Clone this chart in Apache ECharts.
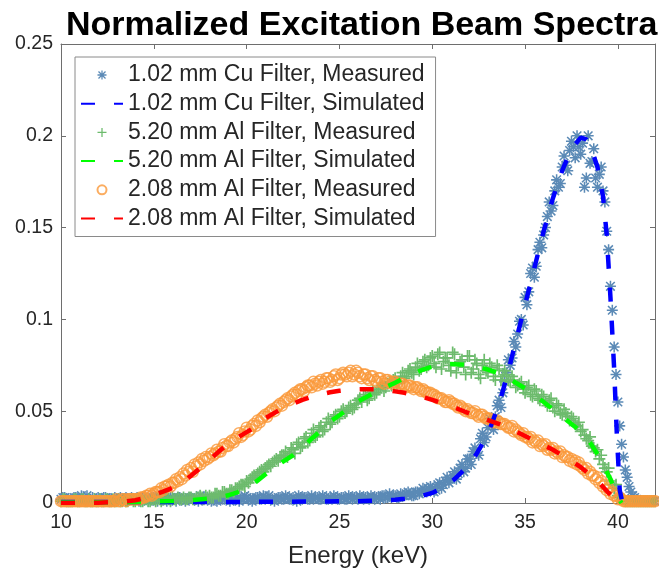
<!DOCTYPE html>
<html>
<head>
<meta charset="utf-8">
<script src="https://cdn.jsdelivr.net/npm/echarts@6/dist/echarts.min.js"></script>
<style>
html,body{margin:0;padding:0;background:#fff;}
#chart{width:659px;height:573px;}
</style>
</head>
<body>
<div id="chart"></div>
<script>
// ---------- data ----------
const seriesNames = [
  '1.02 mm Cu Filter, Measured',
  '1.02 mm Cu Filter, Simulated',
  '5.20 mm Al Filter, Measured',
  '5.20 mm Al Filter, Simulated',
  '2.08 mm Al Filter, Measured',
  '2.08 mm Al Filter, Simulated'
];

// energies of measured points (keV), set A
const energyMeasA = [
  10.0,10.2,10.4,10.6,10.8, 11.0,11.2,11.4,11.6,11.8, 12.0,12.2,12.4,12.6,12.8, 13.0,13.2,13.4,13.6,13.8,
  14.0,14.2,14.4,14.6,14.8, 15.0,15.2,15.4,15.6,15.8, 16.0,16.2,16.4,16.6,16.8, 17.0,17.2,17.4,17.6,17.8,
  18.0,18.2,18.4,18.6,18.8, 19.0,19.2,19.4,19.6,19.8, 20.0,20.2,20.4,20.6,20.8, 21.0,21.2,21.4,21.6,21.8,
  22.0,22.2,22.4,22.6,22.8, 23.0,23.2,23.4,23.6,23.8, 24.0,24.2,24.4,24.6,24.8, 25.0,25.2,25.4,25.6,25.8,
  26.0,26.2,26.4,26.6,26.8, 27.0,27.2,27.4,27.6,27.8, 28.0,28.2,28.4,28.6,28.8, 29.0,29.2,29.4,29.6,29.8,
  30.0,30.2,30.4,30.6,30.8, 31.0,31.2,31.4,31.6,31.8, 32.0,32.2,32.4,32.6,32.8, 33.0,33.2,33.4,33.6,33.8,
  34.0,34.2,34.4,34.6,34.8, 35.0,35.2,35.4,35.6,35.8, 36.0,36.2,36.4,36.6,36.8, 37.0,37.2,37.4,37.6,37.8,
  38.0,38.2,38.4,38.6,38.8, 39.0,39.2,39.4,39.6,39.8, 40.0,40.2,40.4,40.6,40.8, 41.0,41.2,41.4,41.6,41.8,
  42.0
];
// energies of measured points (keV), set B
const energyMeasB = [
  10.1,10.3,10.5,10.7,10.9, 11.1,11.3,11.5,11.7,11.9, 12.1,12.3,12.5,12.7,12.9, 13.1,13.3,13.5,13.7,13.9,
  14.1,14.3,14.5,14.7,14.9, 15.1,15.3,15.5,15.7,15.9, 16.1,16.3,16.5,16.7,16.9, 17.1,17.3,17.5,17.7,17.9,
  18.1,18.3,18.5,18.7,18.9, 19.1,19.3,19.5,19.7,19.9, 20.1,20.3,20.5,20.7,20.9, 21.1,21.3,21.5,21.7,21.9,
  22.1,22.3,22.5,22.7,22.9, 23.1,23.3,23.5,23.7,23.9, 24.1,24.3,24.5,24.7,24.9, 25.1,25.3,25.5,25.7,25.9,
  26.1,26.3,26.5,26.7,26.9, 27.1,27.3,27.5,27.7,27.9, 28.1,28.3,28.5,28.7,28.9, 29.1,29.3,29.5,29.7,29.9,
  30.1,30.3,30.5,30.7,30.9, 31.1,31.3,31.5,31.7,31.9, 32.1,32.3,32.5,32.7,32.9, 33.1,33.3,33.5,33.7,33.9,
  34.1,34.3,34.5,34.7,34.9, 35.1,35.3,35.5,35.7,35.9, 36.1,36.3,36.5,36.7,36.9, 37.1,37.3,37.5,37.7,37.9,
  38.1,38.3,38.5,38.7,38.9, 39.1,39.3,39.5,39.7,39.9, 40.1,40.3,40.5,40.7,40.9, 41.1,41.3,41.5,41.7,41.9
];

const cuMeasuredA = [
  0.002,0.003,0.002,0.001,0.003,0.002,0.002,0.004,0.002,0.001,0.003,0.002,0.003,0.002,0.001,0.002,0.003,0.002,0.002,0.003,
  0.002,0.001,0.003,0.002,0.002,0.003,0.001,0.002,0.003,0.002,0.002,0.001,0.003,0.002,0.002,0.003,0.002,0.001,0.002,0.003,
  0.002,0.002,0.001,0.003,0.002,0.002,0.003,0.002,0.001,0.002,0.003,0.002,0.002,0.003,0.002,0.002,0.004,0.002,0.002,0.003,
  0.002,0.003,0.002,0.002,0.004,0.002,0.003,0.002,0.002,0.003,0.002,0.003,0.002,0.002,0.003,0.002,0.003,0.002,0.003,0.003,
  0.002,0.003,0.003,0.002,0.003,0.003,0.002,0.004,0.003,0.003,0.004,0.003,0.004,0.005,0.005,0.004,0.006,0.006,0.007,0.008,
  0.008,0.007,0.011,0.010,0.014,0.013,0.017,0.016,0.021,0.019,0.024,0.028,0.027,0.035,0.033,0.041,0.045,0.047,0.056,0.060,
  0.071,0.075,0.088,0.092,0.100,0.112,0.115,0.128,0.129,0.142,0.146,0.156,0.159,0.170,0.172,0.183,0.184,0.192,0.194,0.200,
  0.190,0.172,0.200,0.186,0.177,0.179,0.170,0.148,0.118,0.085,0.055,0.032,0.018,0.009,0.004,0.002,0.001,0.001,0.001,0.001,
  0.001
];
const cuMeasuredB = [
  0.003,0.002,0.001,0.003,0.002,0.004,0.002,0.001,0.003,0.002,0.002,0.003,0.001,0.002,0.003,0.002,0.001,0.003,0.002,0.002,
  0.003,0.002,0.002,0.001,0.003,0.002,0.004,0.002,0.001,0.003,0.002,0.003,0.002,0.001,0.003,0.002,0.002,0.004,0.003,0.002,
  0.001,0.003,0.002,0.002,0.004,0.001,0.002,0.003,0.002,0.004,0.002,0.001,0.003,0.002,0.004,0.003,0.002,0.001,0.003,0.002,
  0.004,0.002,0.003,0.001,0.003,0.003,0.002,0.004,0.003,0.002,0.004,0.002,0.003,0.004,0.002,0.003,0.002,0.004,0.002,0.003,
  0.004,0.002,0.003,0.004,0.002,0.003,0.004,0.003,0.005,0.004,0.003,0.005,0.004,0.006,0.004,0.006,0.005,0.008,0.006,0.009,
  0.006,0.010,0.008,0.012,0.011,0.015,0.013,0.019,0.017,0.024,0.021,0.030,0.026,0.038,0.036,0.046,0.040,0.053,0.052,0.066,
  0.078,0.079,0.085,0.099,0.097,0.108,0.125,0.123,0.138,0.139,0.150,0.164,0.162,0.176,0.174,0.189,0.181,0.197,0.188,0.194,
  0.196,0.177,0.185,0.193,0.172,0.183,0.164,0.138,0.105,0.070,0.042,0.025,0.014,0.006,0.003,0.001,0.001,0.001,0.001,0.001
];

const al520MeasuredA = [
  0.001,0.002,0.001,0.001,0.002,0.001,0.002,0.001,0.001,0.002,0.001,0.001,0.002,0.001,0.002,0.001,0.001,0.002,0.001,0.002,
  0.001,0.002,0.001,0.002,0.001,0.002,0.002,0.001,0.002,0.002,0.003,0.002,0.002,0.003,0.002,0.003,0.002,0.003,0.003,0.004,
  0.004,0.003,0.005,0.004,0.006,0.005,0.007,0.008,0.009,0.010,0.012,0.013,0.015,0.016,0.018,0.019,0.021,0.022,0.024,0.025,
  0.026,0.025,0.030,0.027,0.033,0.031,0.036,0.034,0.040,0.037,0.042,0.040,0.046,0.044,0.048,0.047,0.051,0.050,0.053,0.052,
  0.056,0.055,0.059,0.057,0.061,0.060,0.063,0.061,0.065,0.064,0.068,0.066,0.071,0.069,0.073,0.070,0.076,0.073,0.078,0.075,
  0.080,0.074,0.082,0.077,0.079,0.072,0.081,0.075,0.078,0.070,0.080,0.073,0.076,0.068,0.078,0.071,0.074,0.067,0.073,0.069,
  0.070,0.066,0.067,0.064,0.066,0.060,0.064,0.058,0.061,0.056,0.058,0.053,0.057,0.050,0.053,0.048,0.049,0.045,0.046,0.042,
  0.039,0.037,0.034,0.031,0.028,0.024,0.021,0.017,0.012,0.008,0.004,0.002,0.001,0.001,0.001,0.001,0.001,0.001,0.001,0.001,
  0.001
];
const al520MeasuredB = [
  0.002,0.001,0.001,0.002,0.001,0.002,0.001,0.002,0.001,0.001,0.002,0.001,0.002,0.001,0.001,0.002,0.001,0.001,0.002,0.001,
  0.002,0.001,0.002,0.001,0.002,0.001,0.002,0.002,0.003,0.001,0.002,0.003,0.002,0.002,0.003,0.002,0.003,0.004,0.002,0.003,
  0.003,0.005,0.004,0.006,0.005,0.007,0.006,0.008,0.010,0.009,0.011,0.014,0.014,0.017,0.017,0.020,0.020,0.023,0.023,0.026,
  0.028,0.027,0.029,0.032,0.030,0.035,0.033,0.038,0.036,0.041,0.039,0.044,0.043,0.047,0.046,0.050,0.049,0.052,0.051,0.054,
  0.057,0.058,0.056,0.060,0.059,0.062,0.064,0.063,0.066,0.067,0.065,0.069,0.068,0.072,0.071,0.074,0.072,0.077,0.074,0.079,
  0.076,0.081,0.073,0.079,0.075,0.082,0.071,0.077,0.074,0.080,0.071,0.078,0.070,0.075,0.072,0.076,0.069,0.075,0.067,0.072,
  0.067,0.069,0.063,0.065,0.062,0.063,0.059,0.062,0.057,0.059,0.055,0.056,0.052,0.054,0.049,0.051,0.047,0.047,0.043,0.044,
  0.040,0.035,0.036,0.030,0.029,0.026,0.019,0.019,0.010,0.010,0.003,0.002,0.001,0.001,0.001,0.001,0.001,0.001,0.001,0.001
];

const al208MeasuredA = [
  0.001,0.001,0.001,0.001,0.001,0.001,0.001,0.001,0.001,0.001,0.001,0.001,0.001,0.001,0.001,0.002,0.001,0.002,0.002,0.002,
  0.002,0.002,0.003,0.004,0.005,0.005,0.006,0.008,0.009,0.010,0.011,0.013,0.014,0.016,0.018,0.019,0.021,0.022,0.024,0.025,
  0.025,0.026,0.029,0.028,0.032,0.031,0.034,0.035,0.038,0.037,0.041,0.040,0.043,0.045,0.046,0.048,0.049,0.051,0.052,0.054,
  0.055,0.057,0.058,0.060,0.061,0.062,0.063,0.064,0.066,0.064,0.067,0.066,0.068,0.067,0.070,0.068,0.071,0.069,0.072,0.070,
  0.071,0.068,0.070,0.067,0.069,0.066,0.068,0.065,0.067,0.065,0.066,0.064,0.065,0.063,0.064,0.062,0.063,0.061,0.061,0.060,
  0.059,0.058,0.057,0.056,0.055,0.055,0.054,0.052,0.052,0.050,0.050,0.049,0.048,0.048,0.047,0.046,0.045,0.044,0.044,0.043,
  0.042,0.041,0.039,0.039,0.037,0.036,0.035,0.033,0.033,0.031,0.031,0.029,0.029,0.027,0.027,0.025,0.025,0.023,0.022,0.021,
  0.020,0.018,0.016,0.015,0.013,0.011,0.009,0.007,0.005,0.004,0.002,0.002,0.001,0.001,0.001,0.001,0.001,0.001,0.001,0.001,
  0.001
];
const al208MeasuredB = [
  0.001,0.001,0.001,0.001,0.001,0.001,0.001,0.001,0.001,0.001,0.001,0.001,0.001,0.001,0.001,0.001,0.002,0.001,0.002,0.002,
  0.002,0.003,0.003,0.004,0.004,0.006,0.006,0.007,0.009,0.009,0.011,0.012,0.013,0.015,0.017,0.017,0.020,0.021,0.023,0.024,
  0.027,0.027,0.028,0.030,0.031,0.033,0.033,0.036,0.036,0.039,0.039,0.042,0.042,0.044,0.047,0.047,0.050,0.050,0.053,0.053,
  0.056,0.056,0.059,0.059,0.062,0.061,0.064,0.063,0.065,0.066,0.065,0.068,0.066,0.069,0.067,0.070,0.070,0.071,0.069,0.072,
  0.069,0.070,0.068,0.069,0.067,0.068,0.066,0.067,0.066,0.066,0.065,0.065,0.064,0.064,0.063,0.063,0.062,0.062,0.060,0.060,
  0.059,0.057,0.057,0.055,0.056,0.054,0.053,0.053,0.051,0.051,0.049,0.050,0.047,0.048,0.046,0.046,0.044,0.045,0.043,0.043,
  0.041,0.042,0.040,0.038,0.038,0.036,0.036,0.034,0.034,0.032,0.032,0.030,0.030,0.028,0.028,0.026,0.025,0.024,0.023,0.022,
  0.019,0.019,0.017,0.015,0.014,0.012,0.010,0.008,0.006,0.004,0.003,0.001,0.001,0.001,0.001,0.001,0.001,0.001,0.001,0.001
];

// simulated spectra
const cuSimE = [10,12,14,16,18,20,22,24,26,27,28,28.5,29,29.5,30,30.4,30.8,31.2,31.6,32,32.4,32.8,33.2,33.6,34,34.5,35,35.5,36,36.5,37,37.5,38,38.3,38.6,38.9,39.2,39.4,39.6,39.8,39.95,40.1,40.25];
const cuSimV = [0.0005,0.0005,0.0005,0.0005,0.0005,0.0006,0.0007,0.0008,0.001,0.0013,0.0018,0.0023,0.003,0.004,0.0055,0.0075,0.010,0.013,0.017,0.021,0.027,0.034,0.043,0.054,0.068,0.088,0.108,0.128,0.148,0.166,0.181,0.193,0.199,0.198,0.192,0.183,0.167,0.146,0.112,0.073,0.036,0.007,0];

const al520SimE = [10,12,14,15,16,17,18,18.5,19,19.5,20,20.5,21,21.5,22,22.5,23,23.5,24,24.5,25,25.5,26,26.5,27,27.5,28,28.5,29,29.5,30,30.5,31,31.5,32,32.5,33,33.5,34,34.5,35,35.5,36,36.5,37,37.5,38,38.5,39,39.3,39.6,39.8,40,40.2];
const al520SimV = [0.0003,0.0004,0.0006,0.0008,0.0011,0.0015,0.0024,0.003,0.0042,0.0058,0.008,0.0115,0.0155,0.0193,0.0228,0.026,0.0302,0.035,0.0394,0.0443,0.0478,0.0515,0.0553,0.058,0.0608,0.0632,0.0655,0.0682,0.0706,0.0726,0.0743,0.0753,0.0757,0.0755,0.0750,0.0740,0.0727,0.0710,0.0685,0.0655,0.0624,0.0588,0.055,0.051,0.047,0.043,0.039,0.033,0.025,0.019,0.013,0.008,0.003,0];

const al208SimE = [10,11,12,13,13.5,14,14.5,15,15.5,16,16.5,17,17.5,18,18.5,19,19.5,20,20.5,21,21.5,22,22.5,23,23.5,24,24.5,25,25.5,26,26.5,27,27.5,28,28.5,29,29.5,30,30.5,31,31.5,32,32.5,33,33.5,34,34.5,35,35.5,36,36.5,37,37.5,38,38.5,39,39.5,39.8,40.05,40.3];
const al208SimV = [0,0,0.0002,0.0005,0.0009,0.0015,0.0027,0.0045,0.0062,0.0082,0.011,0.0148,0.019,0.0235,0.028,0.0322,0.0355,0.0386,0.0418,0.0461,0.0491,0.052,0.054,0.0562,0.0578,0.0592,0.0603,0.0611,0.0616,0.0619,0.062,0.062,0.0615,0.0608,0.06,0.059,0.0577,0.0562,0.0545,0.0527,0.0508,0.0488,0.047,0.0452,0.0434,0.0415,0.039,0.0365,0.034,0.0315,0.029,0.026,0.023,0.0195,0.0155,0.011,0.0055,0.003,0.001,0];

// tick labels
const xTicks = [10,15,20,25,30,35,40];

// ---------- chart ----------
const FONT = "'Liberation Sans', Arial, Helvetica, sans-serif";
const pairs = (xs, ys) => xs.map((x, i) => [x, ys[i]]);
const measured = (ya, yb) => pairs(energyMeasA, ya).concat(pairs(energyMeasB, yb)).sort((p, q) => p[0] - q[0]);

const asteriskPath = 'path://M8.6,0 h2.8 v20 h-2.8 Z M0,8.6 h20 v2.8 h-20 Z M1.2,3.2 L3.2,1.2 L18.8,16.8 L16.8,18.8 Z M16.8,1.2 L18.8,3.2 L3.2,18.8 L1.2,16.8 Z';
const plusPath = 'path://M8.6,0 h2.8 v20 h-2.8 Z M0,8.6 h20 v2.8 h-20 Z';

const axisColor = '#6e6e6e';
const labelColor = '#262626';

const baseX = {
  type: 'value', min: 10, max: 42, interval: 5,
  axisLine: { show: true, onZero: false, lineStyle: { color: axisColor, width: 1 } },
  axisTick: { show: true, inside: true, length: 5, lineStyle: { color: axisColor } },
  splitLine: { show: false }
};
const baseY = {
  type: 'value', min: 0, max: 0.25, interval: 0.05,
  axisLine: { show: true, onZero: false, lineStyle: { color: axisColor, width: 1 } },
  axisTick: { show: true, inside: true, length: 5, lineStyle: { color: axisColor } },
  splitLine: { show: false }
};

const dash = [14, 19];
const hiddenSymbol = { opacity: 0 };

const chart = echarts.init(document.getElementById('chart'), null, { renderer: 'canvas' });
chart.setOption({
  animation: false,
  backgroundColor: '#fff',
  title: {
    text: 'Normalized Excitation Beam Spectra',
    left: 61, top: 4,
    textStyle: { fontFamily: FONT, fontSize: 34, fontWeight: 'bold', color: '#000' }
  },
  grid: { left: 61, right: 4, top: 44, bottom: 66, containLabel: false },
  legend: {
    data: [
      { name: seriesNames[0] },
      { name: seriesNames[1], itemStyle: hiddenSymbol },
      { name: seriesNames[2] },
      { name: seriesNames[3], itemStyle: hiddenSymbol },
      { name: seriesNames[4] },
      { name: seriesNames[5], itemStyle: hiddenSymbol }
    ],
    orient: 'vertical',
    left: 75, top: 57,
    itemWidth: 42, itemHeight: 9, itemGap: 5.7,
    padding: [6.5, 11, 6.5, 5],
    backgroundColor: '#fff',
    borderColor: '#8a8a8a', borderWidth: 1,
    textStyle: { fontFamily: FONT, fontSize: 23, color: labelColor },
    selectedMode: false
  },
  xAxis: [
    Object.assign({}, baseX, {
      position: 'bottom',
      axisLabel: {
        show: true, color: labelColor, fontFamily: FONT, fontSize: 19.5, margin: 10,
        formatter: v => (xTicks.indexOf(v) >= 0 ? String(v) : '')
      },
      name: 'Energy (keV)', nameLocation: 'middle', nameGap: 41,
      nameTextStyle: { fontFamily: FONT, fontSize: 24, color: labelColor }
    }),
    Object.assign({}, baseX, { position: 'top', axisLabel: { show: false } })
  ],
  yAxis: [
    Object.assign({}, baseY, {
      position: 'left',
      axisLabel: { show: true, color: labelColor, fontFamily: FONT, fontSize: 19.5, margin: 8 }
    }),
    Object.assign({}, baseY, { position: 'right', axisLabel: { show: false } })
  ],
  series: [
    {
      name: seriesNames[0], type: 'scatter', data: measured(cuMeasuredA, cuMeasuredB),
      symbol: asteriskPath, symbolSize: 11,
      itemStyle: { color: '#5b8ab6', opacity: 1 }
    },
    {
      name: seriesNames[2], type: 'scatter', data: measured(al520MeasuredA, al520MeasuredB),
      symbol: plusPath, symbolSize: 12,
      itemStyle: { color: '#6dbb6d', opacity: 1 }
    },
    {
      name: seriesNames[1], type: 'line', data: pairs(cuSimE, cuSimV),
      symbol: 'none', smooth: false,
      lineStyle: { color: '#0000ff', width: 4.5, type: dash, cap: 'butt' },
      itemStyle: { color: '#0000ff' }
    },
    {
      name: seriesNames[3], type: 'line', data: pairs(al520SimE, al520SimV),
      symbol: 'none', smooth: false,
      lineStyle: { color: '#00ff00', width: 4.5, type: dash, cap: 'butt' },
      itemStyle: { color: '#00ff00' }
    },
    {
      name: seriesNames[4], type: 'scatter', data: measured(al208MeasuredA, al208MeasuredB),
      symbol: 'circle', symbolSize: 11,
      itemStyle: { color: 'rgba(0,0,0,0)', borderColor: '#fa983a', borderWidth: 1.5 }
    },
    {
      name: seriesNames[5], type: 'line', data: pairs(al208SimE, al208SimV),
      symbol: 'none', smooth: false,
      lineStyle: { color: '#ff0000', width: 4.5, type: dash, cap: 'butt' },
      itemStyle: { color: '#ff0000' }
    }
  ]
});
</script>
</body>
</html>
